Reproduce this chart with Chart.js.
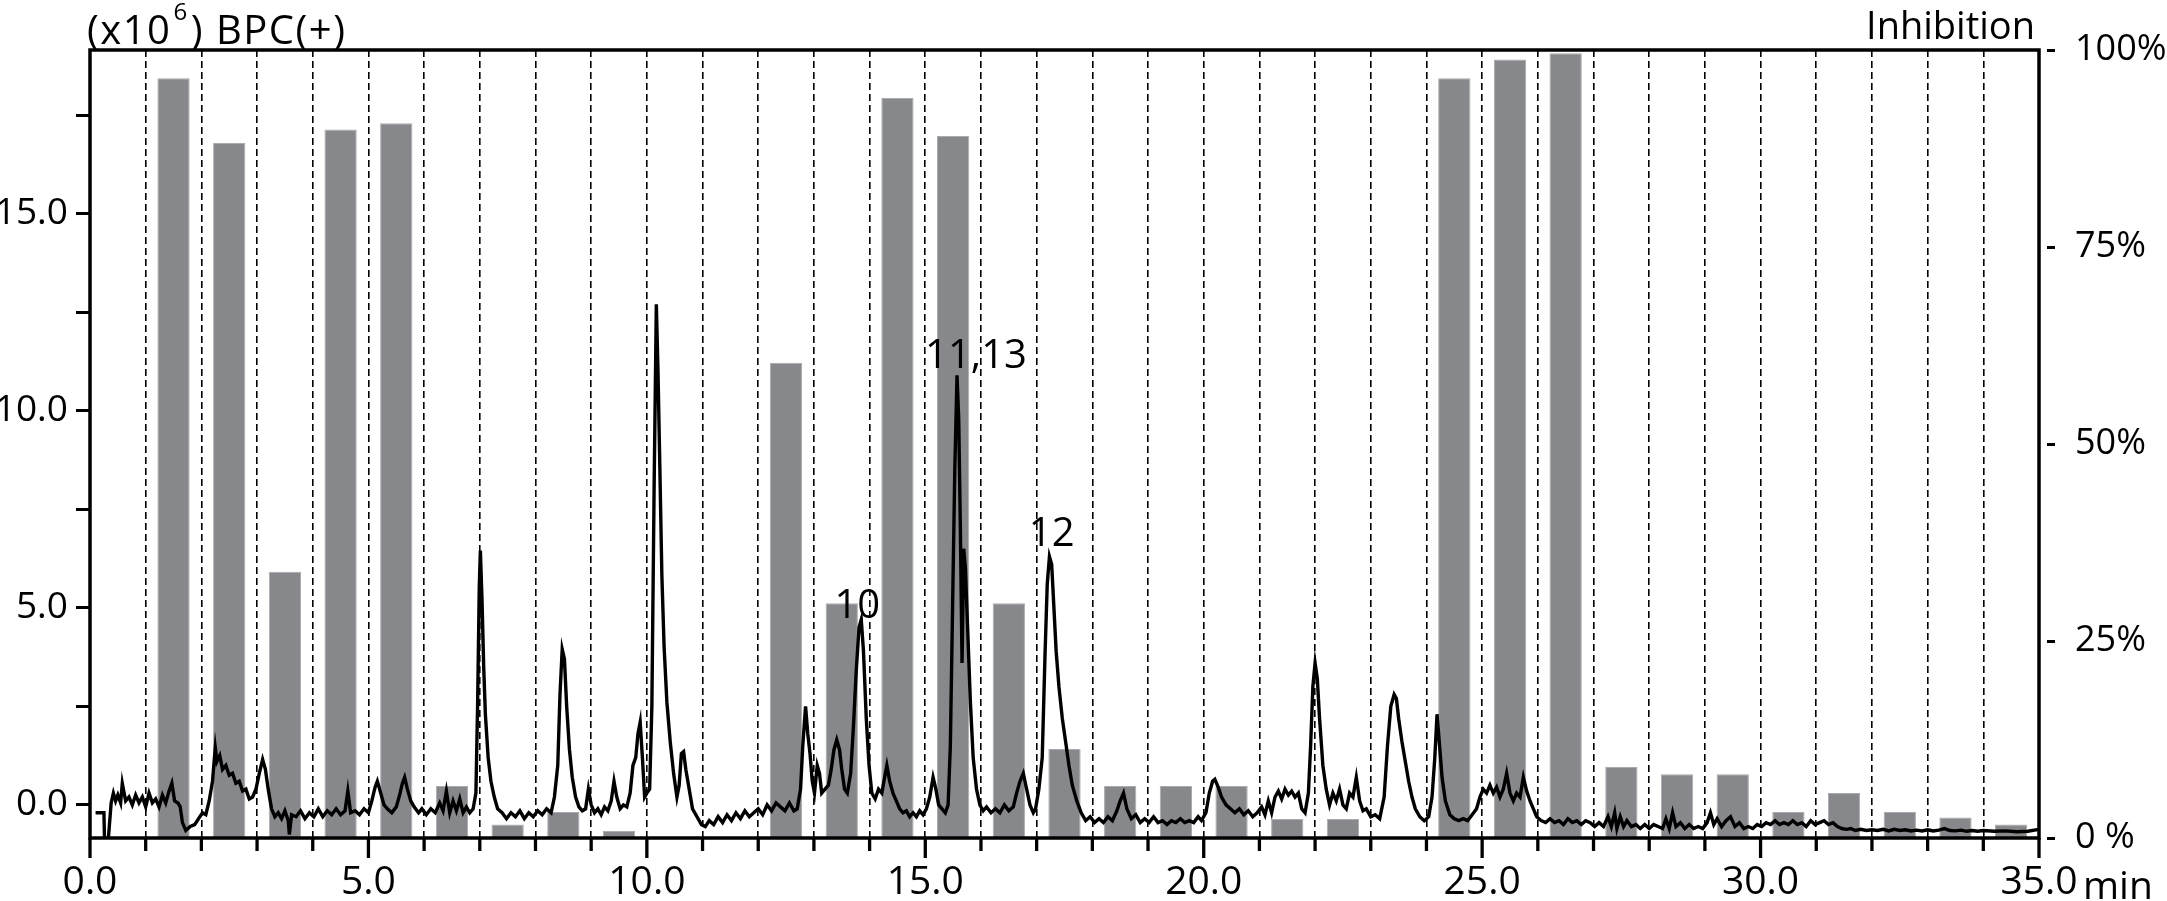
<!DOCTYPE html>
<html>
<head>
<meta charset="utf-8">
<script src="https://cdn.jsdelivr.net/npm/chart.js@4.4.1/dist/chart.umd.min.js"></script>
<style>
  html, body { margin: 0; padding: 0; background: #fff; }
  #wrap { width: 2167px; height: 901px; }
</style>
</head>
<body>
<div id="wrap"><canvas id="bpcChart" width="2167" height="901"></canvas></div>
<script>
//fraction centres (min) and inhibition (%) of each 1-min fraction
const fractionMid = [1.5, 2.5, 3.5, 4.5, 5.5, 6.5, 7.5, 8.5, 9.5, 10.5, 11.5, 12.5, 13.5, 14.5, 15.5, 16.5, 17.5,
  18.5, 19.5, 20.5, 21.5, 22.5, 23.5, 24.5, 25.5, 26.5, 27.5, 28.5, 29.5, 30.5, 31.5, 32.5, 33.5, 34.5];
const inhibition = [96.4, 88.2, 33.8, 89.9, 90.7, 6.6, 1.7, 3.3, 0.9, null, null, 60.3, 29.8, 93.9, 89.1, 29.8, 11.3,
  6.6, 6.6, 6.6, 2.4, 2.4, null, 96.4, 98.8, 99.6, 9.0, 8.1, 8.1, 3.3, 5.7, 3.3, 2.6, 1.7];

//BPC(+) trace: retention time (min) and intensity (x10^6)
const bpcTime = [
  0.10, 0.25, 0.26, 0.33, 0.38, 0.42, 0.46, 0.50, 0.55, 0.58,
  0.64, 0.70, 0.76, 0.82, 0.88, 0.94, 1.00, 1.06, 1.12, 1.18,
  1.24, 1.30, 1.36, 1.42, 1.47, 1.52, 1.58, 1.62, 1.66, 1.72,
  1.80, 1.88, 1.95, 2.02, 2.08, 2.14, 2.20, 2.25, 2.28, 2.33,
  2.38, 2.44, 2.50, 2.56, 2.62, 2.68, 2.74, 2.80, 2.86, 2.92,
  2.98, 3.04, 3.10, 3.15, 3.20, 3.26, 3.32, 3.38, 3.44, 3.50,
  3.56, 3.58, 3.62, 3.70, 3.78, 3.86, 3.94, 4.02, 4.10, 4.18,
  4.26, 4.34, 4.42, 4.50, 4.58, 4.63, 4.68, 4.76, 4.84, 4.92,
  5.00, 5.06, 5.12, 5.16, 5.22, 5.28, 5.34, 5.42, 5.50, 5.56,
  5.61, 5.65, 5.70, 5.76, 5.82, 5.90, 5.96, 6.04, 6.12, 6.20,
  6.28, 6.34, 6.40, 6.46, 6.52, 6.58, 6.64, 6.70, 6.76, 6.82,
  6.88, 6.93, 6.96, 6.99, 7.01, 7.04, 7.07, 7.10, 7.15, 7.20,
  7.26, 7.32, 7.40, 7.48, 7.56, 7.64, 7.72, 7.80, 7.88, 7.96,
  8.04, 8.12, 8.20, 8.28, 8.34, 8.40, 8.44, 8.48, 8.52, 8.56,
  8.61, 8.66, 8.72, 8.78, 8.84, 8.90, 8.95, 9.00, 9.06, 9.12,
  9.18, 9.24, 9.30, 9.36, 9.41, 9.46, 9.52, 9.58, 9.64, 9.70,
  9.75, 9.80, 9.84, 9.88, 9.92, 9.96, 10.00, 10.05, 10.09, 10.13,
  10.17, 10.20, 10.23, 10.27, 10.31, 10.36, 10.42, 10.48, 10.54, 10.58,
  10.62, 10.66, 10.70, 10.76, 10.82, 10.90, 10.98, 11.05, 11.12, 11.20,
  11.28, 11.36, 11.44, 11.52, 11.60, 11.68, 11.76, 11.84, 11.92, 12.00,
  12.08, 12.16, 12.24, 12.32, 12.40, 12.48, 12.56, 12.64, 12.70, 12.76,
  12.80, 12.85, 12.89, 12.93, 12.97, 13.01, 13.06, 13.10, 13.14, 13.20,
  13.26, 13.31, 13.36, 13.41, 13.46, 13.50, 13.55, 13.60, 13.66, 13.71,
  13.76, 13.81, 13.85, 13.89, 13.94, 13.99, 14.04, 14.10, 14.16, 14.22,
  14.27, 14.31, 14.36, 14.42, 14.48, 14.54, 14.60, 14.66, 14.72, 14.78,
  14.84, 14.90, 14.96, 15.02, 15.08, 15.14, 15.19, 15.24, 15.30, 15.36,
  15.41, 15.45, 15.49, 15.53, 15.57, 15.60, 15.63, 15.66, 15.69, 15.72,
  15.76, 15.81, 15.86, 15.92, 15.98, 16.04, 16.10, 16.18, 16.26, 16.34,
  16.42, 16.50, 16.58, 16.64, 16.70, 16.76, 16.82, 16.88, 16.94, 16.98,
  17.04, 17.10, 17.15, 17.19, 17.23, 17.27, 17.31, 17.35, 17.40, 17.46,
  17.52, 17.58, 17.64, 17.72, 17.80, 17.88, 17.96, 18.04, 18.12, 18.20,
  18.28, 18.36, 18.44, 18.50, 18.56, 18.62, 18.70, 18.78, 18.86, 18.94,
  19.02, 19.10, 19.18, 19.26, 19.34, 19.42, 19.50, 19.58, 19.66, 19.74,
  19.82, 19.90, 19.96, 20.04, 20.10, 20.16, 20.20, 20.26, 20.32, 20.40,
  20.48, 20.56, 20.64, 20.72, 20.80, 20.88, 20.96, 21.04, 21.10, 21.16,
  21.22, 21.28, 21.34, 21.40, 21.46, 21.52, 21.58, 21.64, 21.70, 21.76,
  21.82, 21.88, 21.92, 21.96, 22.00, 22.04, 22.08, 22.14, 22.20, 22.26,
  22.32, 22.38, 22.44, 22.50, 22.56, 22.62, 22.68, 22.74, 22.80, 22.86,
  22.92, 23.00, 23.08, 23.16, 23.24, 23.30, 23.36, 23.42, 23.46, 23.50,
  23.56, 23.62, 23.68, 23.74, 23.80, 23.88, 23.96, 24.04, 24.10, 24.15,
  24.19, 24.23, 24.28, 24.34, 24.42, 24.50, 24.58, 24.66, 24.74, 24.82,
  24.90, 24.96, 25.02, 25.08, 25.14, 25.20, 25.26, 25.32, 25.38, 25.44,
  25.50, 25.56, 25.62, 25.68, 25.74, 25.80, 25.86, 25.92, 25.98, 26.06,
  26.14, 26.22, 26.30, 26.38, 26.46, 26.54, 26.62, 26.70, 26.78, 26.86,
  26.94, 27.02, 27.10, 27.18, 27.26, 27.32, 27.38, 27.42, 27.48, 27.54,
  27.60, 27.68, 27.76, 27.84, 27.92, 28.00, 28.08, 28.16, 28.24, 28.30,
  28.36, 28.42, 28.48, 28.56, 28.64, 28.72, 28.80, 28.88, 28.96, 29.04,
  29.10, 29.16, 29.22, 29.30, 29.38, 29.46, 29.54, 29.62, 29.70, 29.78,
  29.86, 29.94, 30.02, 30.10, 30.18, 30.26, 30.34, 30.42, 30.50, 30.58,
  30.66, 30.74, 30.82, 30.90, 30.98, 31.06, 31.14, 31.22, 31.30, 31.38,
  31.46, 31.54, 31.62, 31.70, 31.80, 31.90, 32.00, 32.10, 32.20, 32.30,
  32.40, 32.50, 32.60, 32.70, 32.80, 32.90, 33.00, 33.10, 33.20, 33.30,
  33.40, 33.50, 33.60, 33.70, 33.80, 33.90, 34.00, 34.20, 34.40, 34.60,
  34.80, 35.00
];
const bpcIntensity = [
  -0.20, -0.20, -0.85, -0.85, 0.05, 0.30, 0.10, 0.25, 0.05, 0.55,
  0.10, 0.20, 0.00, 0.25, 0.05, 0.20, -0.05, 0.30, 0.05, 0.15,
  -0.05, 0.25, 0.05, 0.35, 0.55, 0.10, 0.05, -0.05, -0.45, -0.65,
  -0.55, -0.50, -0.35, -0.20, -0.25, 0.10, 0.60, 1.45, 1.10, 1.25,
  0.90, 1.00, 0.75, 0.80, 0.55, 0.60, 0.35, 0.40, 0.15, 0.20,
  0.40, 0.80, 1.15, 0.90, 0.40, -0.10, -0.30, -0.20, -0.35, -0.15,
  -0.40, -0.75, -0.25, -0.30, -0.15, -0.35, -0.20, -0.30, -0.10, -0.30,
  -0.15, -0.25, -0.10, -0.25, -0.15, 0.35, -0.20, -0.15, -0.25, -0.10,
  -0.20, 0.10, 0.45, 0.60, 0.30, 0.00, -0.10, -0.20, -0.05, 0.25,
  0.55, 0.70, 0.40, 0.10, -0.05, -0.20, -0.10, -0.25, -0.10, -0.20,
  0.05, -0.15, 0.35, -0.20, 0.10, -0.15, 0.15, -0.20, -0.05, -0.20,
  -0.10, 0.30, 2.50, 5.50, 6.45, 5.20, 3.50, 2.30, 1.20, 0.60,
  0.20, -0.10, -0.20, -0.35, -0.20, -0.30, -0.15, -0.35, -0.20, -0.30,
  -0.15, -0.25, -0.10, -0.20, 0.20, 1.00, 2.80, 3.95, 3.70, 2.50,
  1.40, 0.70, 0.20, -0.05, -0.15, -0.10, 0.40, 0.00, -0.20, -0.10,
  -0.25, -0.05, -0.15, 0.10, 0.60, 0.20, -0.10, 0.00, -0.05, 0.30,
  1.00, 1.20, 1.80, 2.10, 1.20, 0.20, 0.30, 0.40, 2.50, 8.00,
  12.70, 11.00, 8.80, 5.80, 4.00, 2.60, 1.60, 0.80, 0.20, 0.50,
  1.30, 1.35, 0.90, 0.40, -0.10, -0.30, -0.50, -0.55, -0.40, -0.50,
  -0.30, -0.45, -0.25, -0.40, -0.20, -0.35, -0.15, -0.30, -0.20, -0.10,
  -0.25, 0.00, -0.15, 0.05, -0.05, -0.15, 0.05, -0.15, -0.10, 0.40,
  1.50, 2.50, 1.80, 1.30, 0.60, 0.30, 1.00, 0.80, 0.30, 0.40,
  0.50, 0.90, 1.40, 1.65, 1.40, 0.90, 0.40, 0.30, 0.80, 2.00,
  3.40, 4.50, 4.70, 3.90, 2.20, 1.00, 0.30, 0.15, 0.40, 0.30,
  0.70, 1.00, 0.60, 0.30, 0.10, -0.10, -0.20, -0.15, -0.30, -0.20,
  -0.30, -0.15, -0.25, -0.10, 0.20, 0.70, 0.40, 0.00, -0.10, -0.20,
  0.00, 1.50, 5.00, 8.50, 10.90, 9.80, 7.00, 3.60, 6.50, 6.00,
  4.50, 2.60, 1.20, 0.40, 0.00, -0.15, -0.05, -0.20, -0.10, -0.20,
  0.00, -0.15, -0.05, 0.30, 0.60, 0.80, 0.40, 0.00, -0.20, -0.10,
  0.40, 1.20, 3.80, 5.60, 6.30, 6.10, 5.00, 3.90, 3.00, 2.20,
  1.60, 1.00, 0.50, 0.10, -0.20, -0.40, -0.30, -0.45, -0.35, -0.45,
  -0.30, -0.40, -0.15, 0.10, 0.30, -0.10, -0.35, -0.25, -0.45, -0.35,
  -0.45, -0.30, -0.45, -0.40, -0.50, -0.40, -0.45, -0.35, -0.45, -0.40,
  -0.45, -0.30, -0.40, -0.20, 0.30, 0.60, 0.65, 0.45, 0.20, 0.00,
  -0.10, -0.20, -0.10, -0.25, -0.15, -0.30, -0.20, -0.05, -0.25, 0.10,
  -0.20, 0.20, 0.35, 0.15, 0.40, 0.25, 0.35, 0.20, 0.30, -0.10,
  -0.20, 0.30, 1.50, 3.00, 3.60, 3.20, 2.20, 1.00, 0.40, 0.00,
  0.30, 0.10, 0.40, 0.00, -0.10, 0.30, 0.20, 0.70, 0.10, -0.15,
  -0.10, -0.30, -0.25, -0.35, 0.20, 1.50, 2.50, 2.80, 2.70, 2.20,
  1.60, 1.10, 0.60, 0.20, -0.10, -0.30, -0.40, -0.30, 0.20, 1.20,
  2.30, 1.60, 0.70, 0.10, -0.25, -0.35, -0.40, -0.35, -0.40, -0.25,
  -0.10, 0.20, 0.40, 0.30, 0.50, 0.30, 0.45, 0.20, 0.40, 0.80,
  0.30, 0.10, 0.30, 0.20, 0.70, 0.35, 0.10, -0.10, -0.30, -0.40,
  -0.45, -0.35, -0.45, -0.40, -0.50, -0.35, -0.45, -0.40, -0.50, -0.40,
  -0.45, -0.55, -0.45, -0.55, -0.30, -0.55, -0.20, -0.60, -0.30, -0.55,
  -0.40, -0.55, -0.50, -0.60, -0.50, -0.60, -0.50, -0.55, -0.60, -0.35,
  -0.60, -0.20, -0.55, -0.45, -0.60, -0.50, -0.60, -0.55, -0.60, -0.45,
  -0.20, -0.50, -0.35, -0.55, -0.40, -0.30, -0.55, -0.45, -0.60, -0.55,
  -0.60, -0.50, -0.55, -0.45, -0.50, -0.40, -0.50, -0.45, -0.50, -0.40,
  -0.50, -0.45, -0.55, -0.40, -0.50, -0.45, -0.40, -0.50, -0.45, -0.55,
  -0.60, -0.62, -0.60, -0.65, -0.62, -0.65, -0.63, -0.65, -0.62, -0.66,
  -0.62, -0.65, -0.63, -0.66, -0.64, -0.66, -0.63, -0.66, -0.64, -0.60,
  -0.65, -0.66, -0.64, -0.67, -0.65, -0.67, -0.65, -0.67, -0.66, -0.68,
  -0.67, -0.62
];

//peak labels: text, time (min) and intensity at the text baseline
const peakText = ['10', '11,13', '12'];
const peakTime = [13.78, 15.91, 17.27];
const peakLevel = [4.74, 11.08, 6.57];

//axes
const xMajorTicks = [0, 5, 10, 15, 20, 25, 30, 35];
const xTickLabels = ['0.0', '5.0', '10.0', '15.0', '20.0', '25.0', '30.0', '35.0'];
const leftTicks = [0, 2.5, 5, 7.5, 10, 12.5, 15, 17.5];
const leftTickLabels = ['0.0', '', '5.0', '', '10.0', '', '15.0', ''];
const rightTicks = [0, 25, 50, 75, 100];
const rightTickLabels = ['0 %', '25%', '50%', '75%', '100%'];

const FONT = "'Open Sans', sans-serif";
Chart.defaults.font.family = FONT;
Chart.defaults.color = '#000';

const barData = fractionMid.map((x, i) => ({x: x, y: inhibition[i]}));
const lineData = bpcTime.map((t, i) => ({x: t, y: bpcIntensity[i]}));

//frame, minute ticks and free text
const decorPlugin = {
  id: 'decor',
  afterDraw(chart) {
    const ctx = chart.ctx;
    const a = chart.chartArea;
    const xs = chart.scales.x;
    const ys = chart.scales.y;
    ctx.save();
    ctx.strokeStyle = '#000';
    ctx.lineWidth = 3.3;
    for (let m = 0; m <= 35; m++) {
      const px = xs.getPixelForValue(m);
      const len = xMajorTicks.includes(m) ? 20 : 13;
      ctx.beginPath();
      ctx.moveTo(px, a.bottom);
      ctx.lineTo(px, a.bottom + len);
      ctx.stroke();
    }
    ctx.lineWidth = 3.5;
    ctx.strokeRect(a.left, a.top, a.right - a.left, a.bottom - a.top);

    ctx.fillStyle = '#000';
    ctx.textBaseline = 'alphabetic';
    //left title with superscript
    ctx.textAlign = 'left';
    ctx.letterSpacing = '1.5px';
    ctx.font = '40px ' + FONT;
    let tx = 87;
    ctx.fillText('(x10', tx, 44);
    tx += ctx.measureText('(x10').width + 2;
    ctx.font = '24px ' + FONT;
    ctx.fillText('6', tx, 20);
    tx += ctx.measureText('6').width + 2;
    ctx.font = '40px ' + FONT;
    ctx.fillText(') BPC(+)', tx, 44);
    ctx.letterSpacing = '0px';
    //right title
    ctx.textAlign = 'right';
    ctx.font = '38px ' + FONT;
    ctx.fillText('Inhibition', 2035, 39);
    //unit after last x label
    ctx.textAlign = 'left';
    ctx.font = '39px ' + FONT;
    ctx.fillText('min', xs.getPixelForValue(35) + 44, a.bottom + 61);
    //peak numbers
    ctx.textAlign = 'center';
    ctx.font = '40px ' + FONT;
    peakText.forEach((t, i) => {
      ctx.fillText(t, xs.getPixelForValue(peakTime[i]), ys.getPixelForValue(peakLevel[i]));
    });
    ctx.restore();
  }
};

new Chart(document.getElementById('bpcChart'), {
  type: 'line',
  data: {
    datasets: [{
      type: 'line',
      data: lineData,
      xAxisID: 'x',
      yAxisID: 'y',
      borderColor: '#000',
      borderWidth: 3.4,
      pointRadius: 0,
      tension: 0,
      order: 0
    }, {
      type: 'bar',
      data: barData,
      xAxisID: 'x',
      yAxisID: 'y2',
      backgroundColor: 'rgb(135,136,140)',
      borderColor: 'rgb(170,171,174)',
      borderWidth: 1,
      barPercentage: 0.58,
      categoryPercentage: 1.0,
      order: 1
    }]
  },
  options: {
    responsive: false,
    animation: false,
    layout: { padding: { top: 50, left: 0, right: 0, bottom: 0 } },
    plugins: { legend: { display: false }, tooltip: { enabled: false } },
    scales: {
      x: {
        type: 'linear',
        position: 'bottom',
        min: 0,
        max: 35,
        offset: false,
        afterBuildTicks: (scale) => {
          const t = [];
          for (let m = 0; m <= 35; m++) t.push({ value: m });
          scale.ticks = t;
        },
        afterFit: (scale) => { scale.height = 63; },
        ticks: {
          autoSkip: false,
          maxRotation: 0,
          padding: 1,
          font: { size: 39 },
          callback: (v) => {
            const k = xMajorTicks.indexOf(v);
            return k >= 0 ? xTickLabels[k] : '';
          }
        },
        grid: {
          offset: false,
          drawOnChartArea: true,
          drawTicks: true,
          tickLength: 20,
          tickColor: 'rgba(0,0,0,0)',
          lineWidth: 1.6,
          color: (c) => (c.tick && (c.tick.value === 0 || c.tick.value === 35)) ? 'rgba(0,0,0,0)' : '#000'
        },
        border: { display: false, dash: [7, 4] }
      },
      y: {
        type: 'linear',
        position: 'left',
        min: -0.84,
        max: 19.15,
        afterBuildTicks: (scale) => { scale.ticks = leftTicks.map(v => ({ value: v })); },
        afterFit: (scale) => { scale.width = 90; },
        ticks: {
          autoSkip: false,
          padding: 8,
          font: { size: 37 },
          callback: (v, i) => leftTickLabels[i]
        },
        grid: {
          drawOnChartArea: false,
          drawTicks: true,
          tickLength: 14,
          tickWidth: 3,
          tickColor: '#000'
        },
        border: { display: false }
      },
      y2: {
        type: 'linear',
        position: 'right',
        min: 0,
        max: 100,
        afterBuildTicks: (scale) => { scale.ticks = rightTicks.map(v => ({ value: v })); },
        afterFit: (scale) => { scale.width = 128; },
        ticks: {
          autoSkip: false,
          padding: 20,
          font: { size: 36 },
          callback: (v, i) => rightTickLabels[i]
        },
        grid: {
          drawOnChartArea: false,
          drawTicks: true,
          tickLength: 16,
          tickWidth: 3,
          tickColor: '#000'
        },
        border: { display: true, width: 16, color: 'rgba(0,0,0,0)' }
      }
    }
  },
  plugins: [decorPlugin]
});
</script>
</body>
</html>
